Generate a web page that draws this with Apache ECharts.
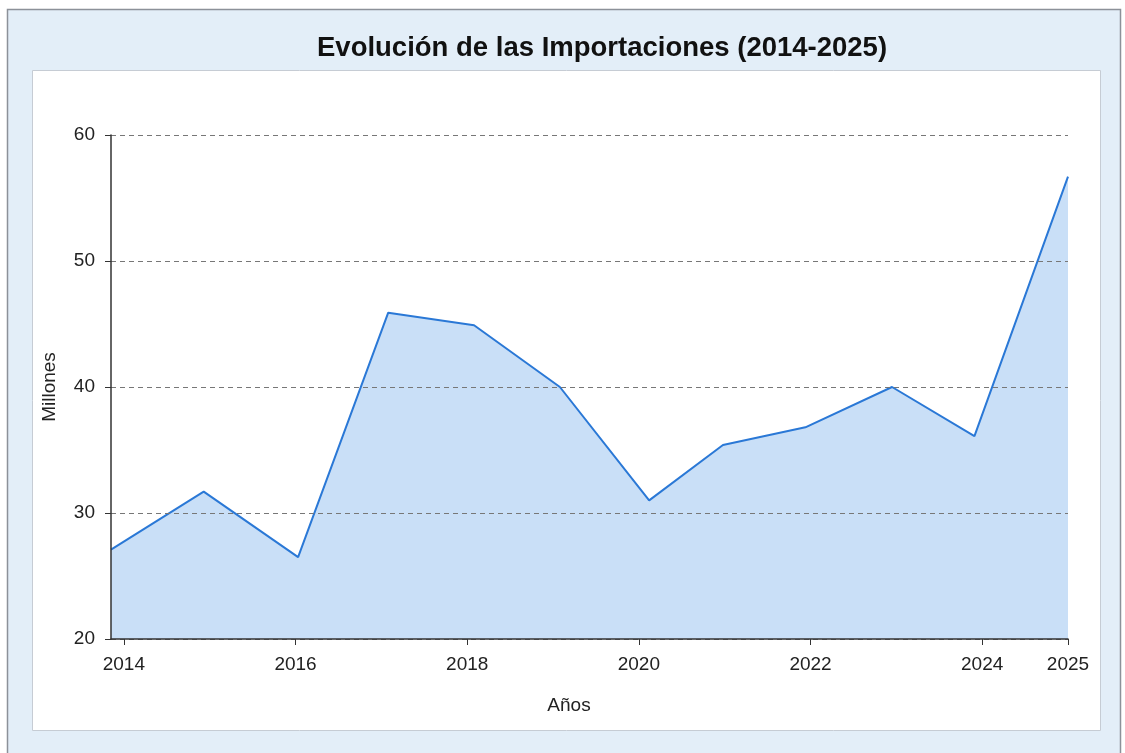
<!DOCTYPE html>
<html>
<head>
<meta charset="utf-8">
<title>Evolución de las Importaciones</title>
<script src="https://cdn.jsdelivr.net/npm/echarts@6/dist/echarts.min.js"></script>
<style>
    html, body { margin: 0; padding: 0; background: #fff; }
    #chart { width: 1125px; height: 753px; }
</style>
</head>
<body>
<div id="chart"></div>
<script>
    // datos
    var years = [2013.85, 2014.93, 2016.03, 2017.08, 2018.08, 2019.08, 2020.12, 2020.98, 2021.94, 2022.95, 2023.91, 2025.0];
    var imports = [27.1, 31.7, 26.5, 45.9, 44.9, 40.0, 31.0, 35.4, 36.8, 40.0, 36.1, 56.7];
    var xTicks = [2014, 2016, 2018, 2020, 2022, 2024, 2025];
    var yTicks = [20, 30, 40, 50, 60];

    var points = years.map(function (y, i) { return [y, imports[i]]; });

    var font = '"Liberation Sans", Arial, Helvetica, sans-serif';
    var myChart = echarts.init(document.getElementById('chart'));

    var option = {
        backgroundColor: '#ffffff',
        textStyle: { fontFamily: font },
        graphic: [
            {
                type: 'rect', z: -10, silent: true,
                shape: { x: 7.5, y: 9.5, width: 1113, height: 760 },
                style: { fill: '#e3eef8', stroke: '#8c9199', lineWidth: 1.5 }
            },
            {
                type: 'rect', z: -9, silent: true,
                shape: { x: 32.5, y: 70.5, width: 1068, height: 660 },
                style: { fill: '#ffffff', stroke: '#c6ccd4', lineWidth: 1 }
            },
            {
                type: 'text', silent: true,
                style: {
                    x: 569, y: 706, text: 'Años', align: 'center', verticalAlign: 'middle',
                    fontFamily: font, fontSize: 19, fill: '#222'
                }
            }
        ],
        title: {
            text: 'Evolución de las Importaciones (2014-2025)',
            left: 312,
            top: 29,
            textStyle: { fontFamily: font, fontSize: 27.5, fontWeight: 'bold', color: '#111' }
        },
        grid: {
            left: 111,
            right: 57,
            top: 135,
            bottom: 114
        },
        xAxis: {
            type: 'value',
            z: 5,
            min: years[0],
            max: years[years.length - 1],
            axisLine: { show: true, lineStyle: { color: '#333', width: 1.5 } },
            axisTick: { show: true, length: 6, customValues: xTicks, lineStyle: { color: '#333' } },
            axisLabel: {
                customValues: xTicks,
                margin: 16,
                fontSize: 19,
                color: '#222',
                fontFamily: font,
                formatter: function (v) { return String(Math.round(v)); }
            },
            splitLine: { show: false }
        },
        yAxis: {
            type: 'value',
            z: 5,
            min: yTicks[0],
            max: yTicks[yTicks.length - 1],
            interval: 10,
            name: 'Millones',
            nameLocation: 'middle',
            nameGap: 52,
            nameTextStyle: { fontSize: 19, color: '#222', fontFamily: font },
            axisLine: { show: true, lineStyle: { color: '#333', width: 1.5 } },
            axisTick: { show: true, length: 6, lineStyle: { color: '#333' } },
            axisLabel: { margin: 16, fontSize: 19, color: '#222', fontFamily: font },
            splitLine: { show: true, lineStyle: { color: '#777', type: [5, 4], width: 1 } }
        },
        series: [{
            name: 'Importaciones',
            type: 'line',
            data: points,
            showSymbol: false,
            lineStyle: { color: '#2a78d6', width: 2 },
            itemStyle: { color: '#2a78d6' },
            areaStyle: { color: '#c9dff7', opacity: 1 },
            z: 1
        }]
    };
    myChart.setOption(option);
</script>
</body>
</html>
